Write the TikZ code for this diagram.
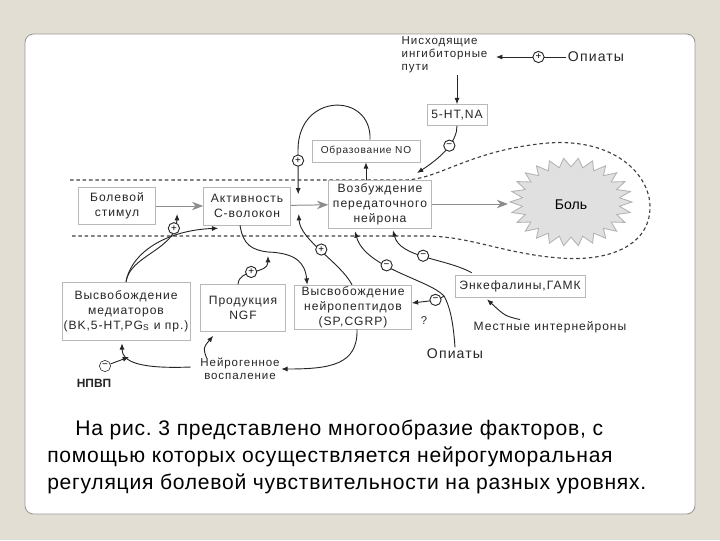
\documentclass[tikz,border=0pt]{standalone}
\usepackage{fontspec}
\setmainfont{Liberation Sans}
\setsansfont{Liberation Sans}
\newfontfamily\lblfont[LetterSpace=8]{Liberation Sans}
\newfontfamily\captfont[LetterSpace=3.5]{Liberation Sans}
\usetikzlibrary{arrows.meta, calc, positioning}
\frenchspacing

\definecolor{slidebg}{HTML}{E3DED4}
\definecolor{ink}{HTML}{262626}

\tikzset{
  box/.style={draw=black!28, fill=white, align=center, text=ink, inner sep=1pt,
    font=\lblfont\fontsize{8.6}{10.6}\selectfont},
  lbl/.style={align=center, text=ink, inner sep=1pt,
    font=\lblfont\fontsize{8.2}{9.4}\selectfont},
  sgn/.style={circle, draw=ink, fill=white, inner sep=0pt, minimum size=8pt,
    font=\fontsize{7}{7}\selectfont},
  arr/.style={draw=ink, line width=0.65pt, -{Latex[length=4.5pt,width=3.6pt]}},
  garr/.style={draw=black!45, line width=0.7pt, -{Stealth[length=8pt,width=6pt,fill=black!45]}},
  bdry/.style={draw=black!75, line width=0.8pt, dash pattern=on 2.5pt off 2pt},
}

\begin{document}
\begin{tikzpicture}[x=0.025cm, y=-0.025cm]

    % --- Slide ---
    \fill[slidebg] (0,0) rectangle (720,540);
    \path[use as bounding box] (0,0) rectangle (720,540);
    \filldraw[fill=white, draw=black!40, line width=0.6pt, rounded corners=6pt] (25,34) rectangle (695,514);

    % --- Pain region (dashed) and the pain star ---
    \draw[bdry] (70,180) -- (405,180) .. controls (440,179) and (470,150) .. (548,143)
        .. controls (615,138) and (650,175) .. (650,207)
        .. controls (650,245) and (610,262) .. (560,258)
        .. controls (505,254) and (470,236) .. (425,236) -- (70,236);
    \filldraw[fill=black!12, draw=black!30, line width=0.6pt]
        (632,202) \foreach \i in {1,...,51}{
          -- ({571+61*(1-0.2*mod(\i,2))*cos(\i*6.9231)}, {202+44*(1-0.2*mod(\i,2))*sin(\i*6.9231)})
        } -- cycle;
    \node[font=\fontsize{10}{12}\selectfont, text=black] (bol) at (571,205) {Боль};

    % --- Boxes ---
    \node[box, minimum width=1.925cm, minimum height=0.925cm] (stim) at (117,206) {Болевой\\стимул};
    \node[box, minimum width=2.175cm, minimum height=0.95cm] (act) at (247,206) {Активность\\С-волокон};
    \node[box, minimum width=2.575cm, minimum height=1.2cm] (exc) at (380,204) {Возбуждение\\передаточного\\нейрона};
    \node[box, minimum width=3.2cm, minimum height=1.45cm] (mediat) at (126,311) {Высвобождение\\медиаторов\\(BK,5-HT,PG\textsubscript{S} и пр.)};
    \node[box, minimum width=2.125cm, minimum height=1.175cm] (ngf) at (243,308) {Продукция\\NGF};
    \node[box, minimum width=2.925cm, minimum height=1.025cm] (pept) at (353,307) {Высвобождение\\нейропептидов\\(SP,CGRP)};
    \node[box, minimum width=3.25cm, minimum height=0.55cm] (enk) at (520,286) {Энкефалины,ГАМК};
    \node[box, minimum width=2.7cm, minimum height=0.55cm, font=\lblfont\fontsize{7.2}{8}\selectfont] (no) at (366,151) {Образование NO};
    \node[box, minimum width=1.5cm, minimum height=0.525cm] (ht) at (457,115) {5-HT,NA};

    % --- Free labels ---
    \node[lbl, align=left, anchor=west] (desc) at (400,55) {Нисходящие\\ингибиторные\\пути};
    \node[lbl, font=\lblfont\fontsize{10}{12}\selectfont] (opiTop) at (596,57) {Опиаты};
    \node[lbl, font=\lblfont\fontsize{8.6}{10}\selectfont] (local) at (550,327) {Местные интернейроны};
    \node[lbl, font=\lblfont\fontsize{10}{12}\selectfont] (opiBot) at (455,354) {Опиаты};
    \node[lbl, font=\fontsize{8}{9}\selectfont] (q) at (424,321) {?};
    \node[lbl] (infl) at (240,369) {Нейрогенное\\воспаление};
    \node[lbl, font=\bfseries\fontsize{8.5}{10}\selectfont] (nsaid) at (94,383) {НПВП};

    % --- Main chain (gray arrows) ---
    \coordinate (js) at ($(stim.east)!0.45!(act.west)$);
    \coordinate (jn) at ($(act.east)!0.2!(exc.west)$);
    \coordinate (bolw) at (508,204);
    \draw[garr] (stim) -- (act);
    \draw[garr] (act) -- (exc);
    \draw[garr] (exc) -- (bolw);

    % --- Descending pathways ---
    \draw[arr, shorten >=5pt] (opiTop.west) -- node[sgn, pos=0.36] {+} (desc.east |- opiTop.west);
    \draw[arr] (desc.south -| ht.north) -- (ht.north);
    \coordinate (nhEnd) at (417,173);
    \draw[arr] (ht.south) .. controls (457,140) and (445,155) .. node[sgn, pos=0.45] {−} (nhEnd);

    % --- NO loop ---
    \draw[arr] (exc.north -| no.south) -- (no.south);
    \draw[arr, shorten >=8pt] ($(no.north)+(4,0)$) .. controls (372,92) and (298,92) .. (298,150)
        -- node[sgn, pos=0.19] {+} (jn);

    % --- Mediators ---
    \draw[arr] (mediat.north) .. controls (130,255) and (176,250) .. node[sgn, pos=0.85] {+} ($(js)+(0,8)$);
    \draw[arr] (mediat.north) .. controls (132,250) and (170,230) .. ($(act.south west)+(15,3)$);

    % --- C-fibres, NGF, neuropeptides ---
    \coordinate (km) at (268,252);
    \draw[arr] ($(act.south)+(-7,0)$) .. controls (243,245) and (252,250) .. (km)
        .. controls (295,253) and (305,262) .. ($(pept.north west)+(13,0)$);
    \draw[arr] ($(ngf.north)+(-5,0)$) .. controls (239,268) and (268,275) .. node[sgn, pos=0.45] {+} ($(km)+(0,4)$);
    \draw[arr, shorten >=6pt] ($(pept.north)+(-1,0)$) .. controls (340,262) and (300,240) .. node[sgn, pos=0.5] {+} (jn);

    % --- Inhibition of the relay neuron ---
    \draw[arr] ($(enk.north west)+(17,-2)$) .. controls (445,258) and (400,258) .. node[sgn, pos=0.52] {−} ($(exc.south)+(13,2)$);
    \coordinate (ob) at (444,296);
    \draw[arr] (opiBot.north) .. controls (453,318) and (449,305) .. (ob)
        .. controls (430,280) and (365,268) .. node[sgn, pos=0.6] {−} ($(exc.south)+(-25,3)$);
    \draw[arr] (ob) .. controls (438,300) .. node[sgn, pos=0.5] {−} ($(pept.east)+(0,-4)$);
    \draw[arr] ($(local.north)+(-30,0)$) .. controls (505,316) .. ($(enk.south)+(-33,2)$);

    % --- Neurogenic inflammation ---
    \draw[arr] ($(pept.south)+(4,0)$) .. controls (358,365) and (330,369) .. (infl.east);
    \draw[arr] ($(infl.north west)+(8,2)$) .. controls (203,348) .. ($(ngf.south west)+(13,4)$);
    \draw[arr] ($(infl.west)+(-8,-2)$) .. controls (140,369) and (122,362) .. ($(mediat.south)+(-4,3)$);
    \coordinate (nsTip) at (129,357);
    \node[sgn] (nsSign) at (105,366) {−};
    \draw[arr] (nsSign) -- (nsTip);

    % --- Caption ---
    \node[anchor=north west, align=left, inner sep=0pt, text=black,
          font=\captfont\fontsize{15}{19.2}\selectfont] (capt) at (47,420)
        {\hspace*{20pt}На рис. 3 представлено многообразие факторов, с\\
         помощью которых осуществляется нейрогуморальная\\
         регуляция болевой чувствительности на разных уровнях.};

\end{tikzpicture}
\end{document}
